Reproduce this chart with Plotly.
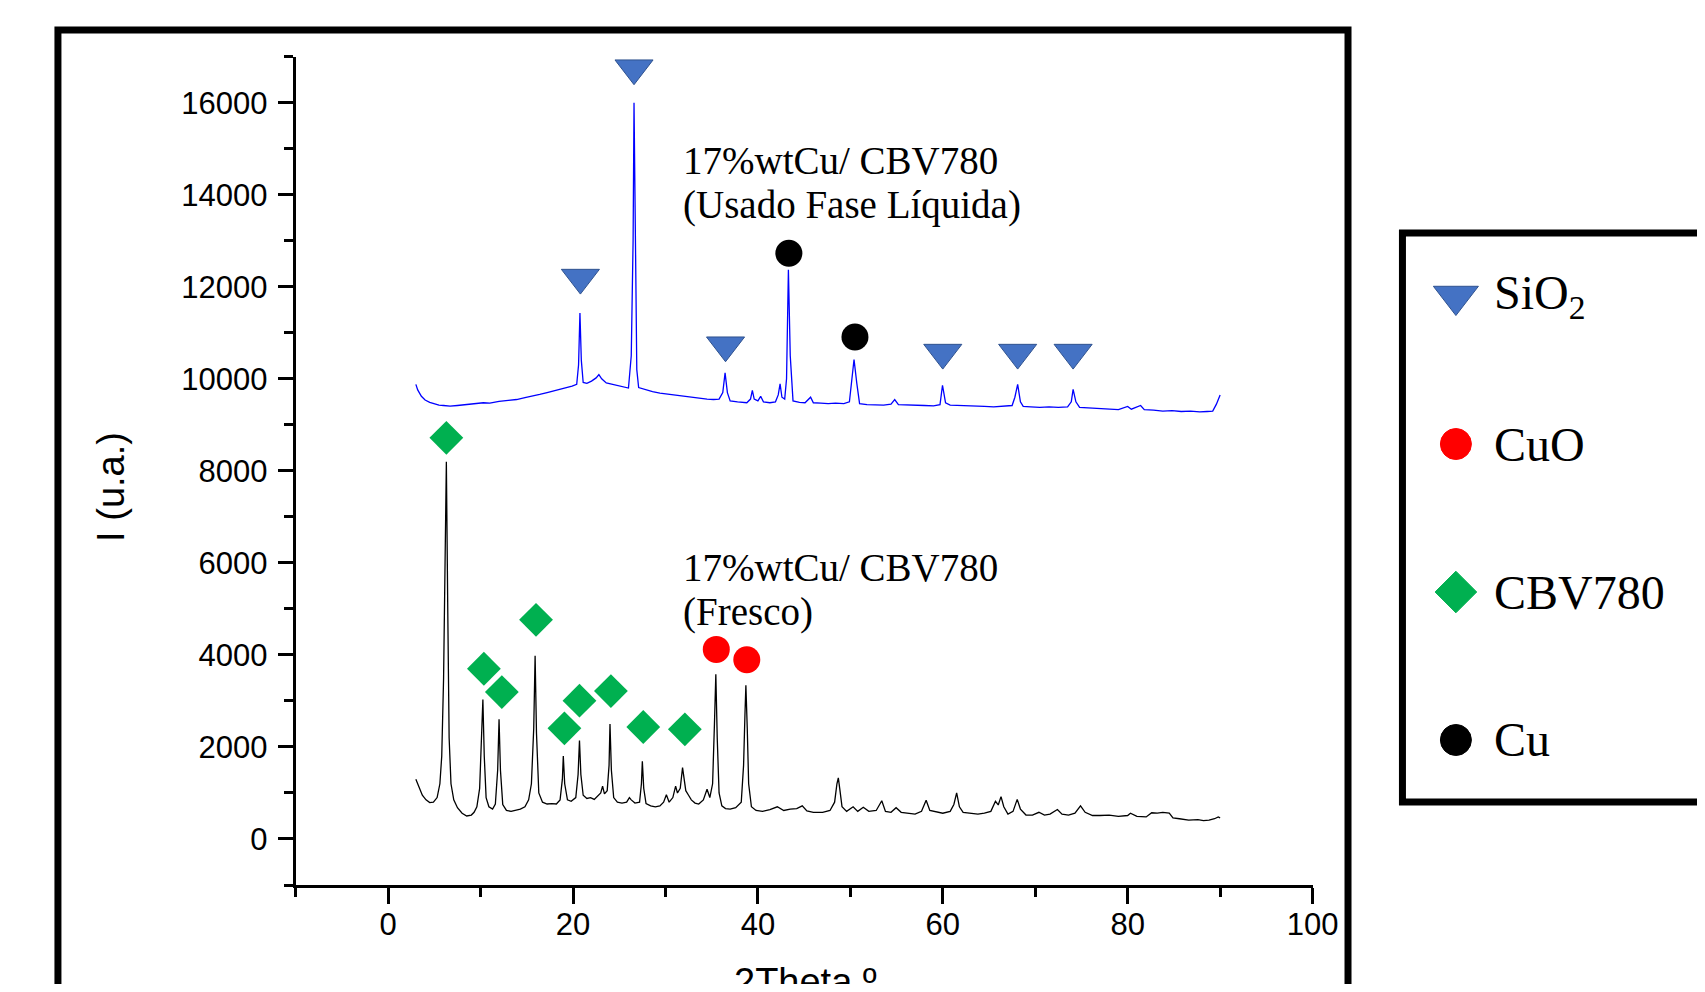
import plotly.graph_objects as go

# ---------------- data ----------------
fresh_x = [3.0, 3.3, 3.7, 4.1, 4.5, 4.9, 5.3, 5.6, 5.8, 6.0, 6.15, 6.3, 6.45, 6.6, 6.8, 7.1, 7.5, 8.0, 8.5, 9.0,
           9.3, 9.6, 9.9, 10.1, 10.25, 10.4, 10.6, 10.9, 11.3, 11.6, 11.85, 12.0, 12.15, 12.4, 12.8, 13.3, 13.8, 14.3,
           14.8, 15.2, 15.5, 15.75, 15.9, 16.05, 16.3, 16.7, 17.2, 17.7, 18.2, 18.6, 18.85, 18.95, 19.1, 19.4, 19.8,
           20.3, 20.55, 20.7, 20.85, 21.1, 21.5, 21.9, 22.3, 22.7, 23.0, 23.2, 23.4, 23.7, 23.9, 24.0, 24.15, 24.4,
           24.8, 25.3, 25.8, 26.1, 26.3, 26.7, 27.2, 27.4, 27.5, 27.65, 27.9, 28.4, 28.9, 29.4, 29.8, 30.1, 30.4,
           30.8, 31.1, 31.3, 31.6, 31.85, 32.0, 32.2, 32.5, 32.8, 33.2, 33.6, 34.1, 34.5, 34.8, 35.1, 35.3, 35.45,
           35.6, 35.8, 36.1, 36.5, 37.0, 37.6, 38.2, 38.45, 38.6, 38.7, 38.85, 39.0, 39.3, 39.8, 40.5, 41.3, 42.1,
           42.8, 43.5, 44.2, 44.8, 45.3, 46.0, 47.0, 47.8, 48.3, 48.55, 48.7, 48.85, 49.1, 49.6, 50.3, 50.8, 51.4,
           52.0, 52.8, 53.4, 53.8, 54.4, 54.95, 55.5, 56.2, 57.0, 57.7, 58.2, 58.6, 59.4, 60.0, 60.8, 61.2, 61.5,
           61.8, 62.2, 63.0, 63.8, 64.5, 65.2, 65.7, 66.0, 66.3, 66.6, 67.05, 67.6, 68.05, 68.4, 69.0, 69.7, 70.4,
           71.0, 71.6, 72.4, 72.9, 73.6, 74.3, 74.9, 75.4, 76.2, 77.0, 78.0, 79.0, 80.0, 80.3, 81.0, 82.0, 82.6,
           83.2, 83.8, 84.5, 84.9, 85.6, 86.6, 87.6, 88.2, 88.8, 89.4, 89.8, 90.0]
fresh_y = [1300, 1150, 950, 850, 790, 800, 900, 1200, 1800, 3500, 5500, 8200, 5000, 2200, 1200, 850, 680, 560, 500, 520,
           580, 700, 1100, 2000, 3030, 1800, 900, 700, 650, 760, 1500, 2600, 1500, 750, 620, 600, 620, 650,
           700, 850, 1200, 2400, 3980, 2300, 1000, 800, 760, 770, 760, 850, 1300, 1800, 1200, 850, 820,
           900, 1400, 2140, 1400, 950, 880, 900, 860, 950, 1000, 1150, 980, 1050, 1600, 2500, 1500, 900,
           800, 780, 800, 900, 850, 780, 800, 1200, 1690, 1100, 770, 720, 700, 720, 800, 960, 800,
           900, 1150, 1000, 1100, 1550, 1300, 1050, 950, 850, 780, 760, 850, 1080, 900, 1200, 2500, 3580,
           2200, 1000, 720, 660, 650, 680, 800, 1600, 2700, 3340, 2400, 1200, 700, 620, 600, 640, 700,
           620, 650, 660, 720, 610, 580, 580, 620, 800, 1200, 1330, 1100, 700, 600, 700, 600, 690,
           600, 620, 830, 600, 580, 680, 580, 560, 540, 600, 840, 620, 580, 560, 600, 750, 1000,
           700, 580, 560, 540, 560, 600, 820, 740, 920, 700, 540, 600, 860, 650, 520, 520, 580,
           520, 540, 640, 540, 520, 560, 720, 580, 510, 510, 520, 490, 510, 560, 490, 480, 570,
           560, 580, 560, 460, 440, 410, 420, 400, 410, 440, 480, 460]

used_x = [3.0, 3.2, 3.6, 4.0, 4.5, 5.0, 5.5, 6.0, 6.7, 7.5, 8.5, 9.5, 10.3, 11.0, 12.0, 13.0, 13.9, 14.8, 15.6, 16.4,
          17.2, 18.0, 18.6, 19.3, 19.9, 20.4, 20.6, 20.75, 20.9, 21.1, 21.5, 22.0, 22.5, 22.8, 23.1, 23.6, 24.2,
          24.8, 25.4, 26.0, 26.3, 26.5, 26.6, 26.75, 26.9, 27.1, 27.8, 28.6, 29.4, 30.2, 31.0, 31.9, 32.8, 33.7,
          34.5, 35.2, 35.8, 36.2, 36.45, 36.7, 37.0, 37.8, 38.8, 39.2, 39.4, 39.6, 40.0, 40.3, 40.6, 41.3, 41.9,
          42.2, 42.4, 42.6, 42.9, 43.1, 43.3, 43.5, 43.8, 44.5, 45.1, 45.7, 46.0, 46.8, 47.6, 48.4, 49.3, 49.9,
          50.2, 50.4, 50.7, 51.0, 51.8, 52.8, 53.6, 54.4, 54.8, 55.2, 56.0, 57.0, 58.0, 59.0, 59.7, 59.97, 60.3,
          60.8, 61.6, 62.5, 63.5, 64.5, 65.5, 66.5, 67.5, 67.8, 68.1, 68.4, 68.7, 69.5, 70.5, 71.5, 72.5, 73.5,
          73.9, 74.1, 74.4, 74.8, 75.8, 77.0, 78.0, 79.0, 80.0, 80.4, 81.4, 81.8, 82.8, 83.8, 84.8, 85.8, 86.8,
          87.8, 88.6, 89.2, 89.6, 90.0]
used_y = [9880, 9760, 9620, 9540, 9490, 9460, 9430, 9420, 9405, 9420, 9440, 9460, 9480, 9470, 9510, 9530, 9550, 9590,
          9620, 9660, 9700, 9740, 9770, 9800, 9840, 9880, 10300, 11430, 10400, 9920, 9900, 9950, 10020, 10090,
          10000, 9910, 9880, 9850, 9830, 9800, 10500, 13000, 16000, 12500, 10200, 9810, 9760, 9720, 9690, 9670,
          9640, 9620, 9590, 9570, 9560, 9550, 9560, 9700, 10130, 9700, 9520, 9500, 9480, 9560, 9750, 9560, 9520,
          9620, 9500, 9480, 9500, 9650, 9890, 9600, 9560, 10000, 12370, 10500, 9520, 9490, 9480, 9600, 9480,
          9470, 9460, 9470, 9460, 9500, 10000, 10420, 9900, 9460, 9440, 9440, 9430, 9450, 9550, 9440, 9430,
          9420, 9420, 9410, 9440, 9860, 9480, 9430, 9420, 9410, 9400, 9400, 9390, 9400, 9420, 9600, 9880, 9500,
          9400, 9390, 9380, 9390, 9380, 9390, 9500, 9770, 9500, 9380, 9370, 9350, 9340, 9330, 9400, 9340, 9420,
          9330, 9320, 9300, 9310, 9290, 9300, 9280, 9290, 9300, 9450, 9650]

# phase markers (2theta, intensity)
sio2_x = [20.8, 26.6, 36.5, 60.0, 68.1, 74.1]
sio2_y = [12200, 16750, 10730, 10570, 10570, 10570]
cu_x = [43.35, 50.5]
cu_y = [12730, 10910]
cuo_x = [35.5, 38.8]
cuo_y = [4120, 3895]
cbv_x = [6.3, 10.36, 12.3, 16.0, 19.07, 20.7, 24.1, 27.6, 32.1]
cbv_y = [8717, 3699, 3193, 4763, 2404, 3005, 3215, 2433, 2382]

legend_labels = ["SiO<sub>2</sub>", "CuO", "CBV780", "Cu"]
legend_symbols = ["triangle-down", "circle", "diamond", "circle"]
legend_colors = ["#4472C4", "#FF0000", "#00B050", "#000000"]
legend_line_colors = ["#2F528F", "#FF0000", "#00B050", "#000000"]

x_tick_vals = [0, 20, 40, 60, 80, 100]
x_tick_text = ["0", "20", "40", "60", "80", "100"]
y_tick_vals = [0, 2000, 4000, 6000, 8000, 10000, 12000, 14000, 16000]
y_tick_text = ["0", "2000", "4000", "6000", "8000", "10000", "12000", "14000", "16000"]

# page body has an 8px margin; size the figure so the page does not overflow
OFF = 8
W, H = 1705 - 2 * OFF, 992 - 2 * OFF
# horizontal placement as observed on the photographed page
X0, WX = 7.0, W * 0.9857


def px(x):
    return (x - X0) / WX


def py(y):
    return 1 - (y - OFF) / H


SANS = "Liberation Sans, Arial, sans-serif"
SERIF = "Liberation Serif, Times New Roman, serif"

fig = go.Figure()

fig.add_trace(go.Scatter(x=fresh_x, y=fresh_y, mode="lines",
                         line=dict(color="#000000", width=1.3), showlegend=False))
fig.add_trace(go.Scatter(x=used_x, y=used_y, mode="lines",
                         line=dict(color="#0000FF", width=1.3), showlegend=False))

fig.add_trace(go.Scatter(x=sio2_x, y=sio2_y, mode="markers", cliponaxis=False, showlegend=False,
                         marker=dict(symbol="triangle-down", size=33, color="#4472C4", opacity=1,
                                     line=dict(color="#2F528F", width=1))))
fig.add_trace(go.Scatter(x=cu_x, y=cu_y, mode="markers", cliponaxis=False, showlegend=False,
                         marker=dict(symbol="circle", size=27, color="#000000", opacity=1, line=dict(width=0))))
fig.add_trace(go.Scatter(x=cuo_x, y=cuo_y, mode="markers", cliponaxis=False, showlegend=False,
                         marker=dict(symbol="circle", size=27, color="#FF0000", opacity=1, line=dict(width=0))))
fig.add_trace(go.Scatter(x=cbv_x, y=cbv_y, mode="markers", cliponaxis=False, showlegend=False,
                         marker=dict(symbol="diamond", size=26, color="#00B050", opacity=1, line=dict(width=0))))

# custom legend drawn on its own axes (x2 measured in pixels from the legend box's left edge)
LEG_L = 1403
leg_dom = [px(LEG_L), 1.0]
leg_span = (leg_dom[1] - leg_dom[0]) * WX
leg_idx = list(range(len(legend_labels)))
fig.add_trace(go.Scatter(x=[53.5] * len(leg_idx), y=leg_idx, xaxis="x2", yaxis="y2",
                         mode="markers", cliponaxis=False, showlegend=False,
                         marker=dict(symbol=legend_symbols, color=legend_colors, opacity=1,
                                     size=[39, 31, 32, 31],
                                     line=dict(color=legend_line_colors, width=1))))

annotations = []
for i, lab in enumerate(legend_labels):
    annotations.append(dict(x=90, y=i, xref="x2", yref="y2", text=lab, showarrow=False,
                            xanchor="left", yanchor="middle",
                            font=dict(family=SERIF, size=48, color="black")))

# sample labels
for txt, yy in [("17%wtCu/ CBV780", 160), ("(Usado Fase Líquida)", 205),
                ("17%wtCu/ CBV780", 567), ("(Fresco)", 612)]:
    annotations.append(dict(x=px(681), y=py(yy), xref="paper", yref="paper", text=txt, showarrow=False,
                            xanchor="left", yanchor="middle",
                            font=dict(family=SERIF, size=39, color="black")))

# axis titles
annotations.append(dict(x=px(110), y=py(487), xref="paper", yref="paper", text="I (u.a.)",
                        textangle=-90, showarrow=False, xanchor="center", yanchor="middle",
                        font=dict(family=SANS, size=38, color="black")))
annotations.append(dict(x=px(805), y=py(982), xref="paper", yref="paper", text="2Theta º",
                        showarrow=False, xanchor="center", yanchor="middle",
                        font=dict(family=SANS, size=38, color="black")))

shapes = [
    dict(type="rect", xref="paper", yref="paper", x0=px(57), x1=px(1348.5), y0=py(1040), y1=py(30),
         line=dict(color="black", width=7), fillcolor="rgba(0,0,0,0)", layer="above"),
    dict(type="rect", xref="paper", yref="paper", x0=px(LEG_L), x1=px(1760), y0=py(802), y1=py(233),
         line=dict(color="black", width=7), fillcolor="rgba(0,0,0,0)", layer="above"),
]

fig.update_layout(
    width=W, height=H,
    margin=dict(l=0, r=0, t=0, b=0),
    paper_bgcolor="white", plot_bgcolor="white",
    showlegend=False,
    annotations=annotations,
    shapes=shapes,
    xaxis=dict(domain=[px(295), px(1313)], range=[-10, 100], showgrid=False, zeroline=False,
               showline=True, linecolor="black", linewidth=3,
               tickmode="array", tickvals=x_tick_vals, ticktext=x_tick_text,
               ticks="outside", ticklen=16, tickwidth=3, ticklabelstandoff=-6,
               tickcolor="black", tickfont=dict(family=SANS, size=31, color="black"),
               minor=dict(ticks="outside", ticklen=9, tickwidth=3, tickcolor="black", dtick=10, tick0=0)),
    yaxis=dict(domain=[py(885), py(56.7)], range=[-1000, 17000], showgrid=False, zeroline=False,
               showline=True, linecolor="black", linewidth=3,
               tickmode="array", tickvals=y_tick_vals, ticktext=y_tick_text,
               ticks="outside", ticklen=15, tickwidth=3, ticklabelstandoff=4,
               tickcolor="black", tickfont=dict(family=SANS, size=31, color="black"),
               minor=dict(ticks="outside", ticklen=9, tickwidth=3, tickcolor="black", dtick=1000, tick0=0)),
    xaxis2=dict(domain=leg_dom, range=[0, leg_span], visible=False, anchor="y2"),
    yaxis2=dict(domain=[py(802), py(233)], range=[3.419, -0.426], visible=False, anchor="x2"),
)

fig.write_html("out.html")
